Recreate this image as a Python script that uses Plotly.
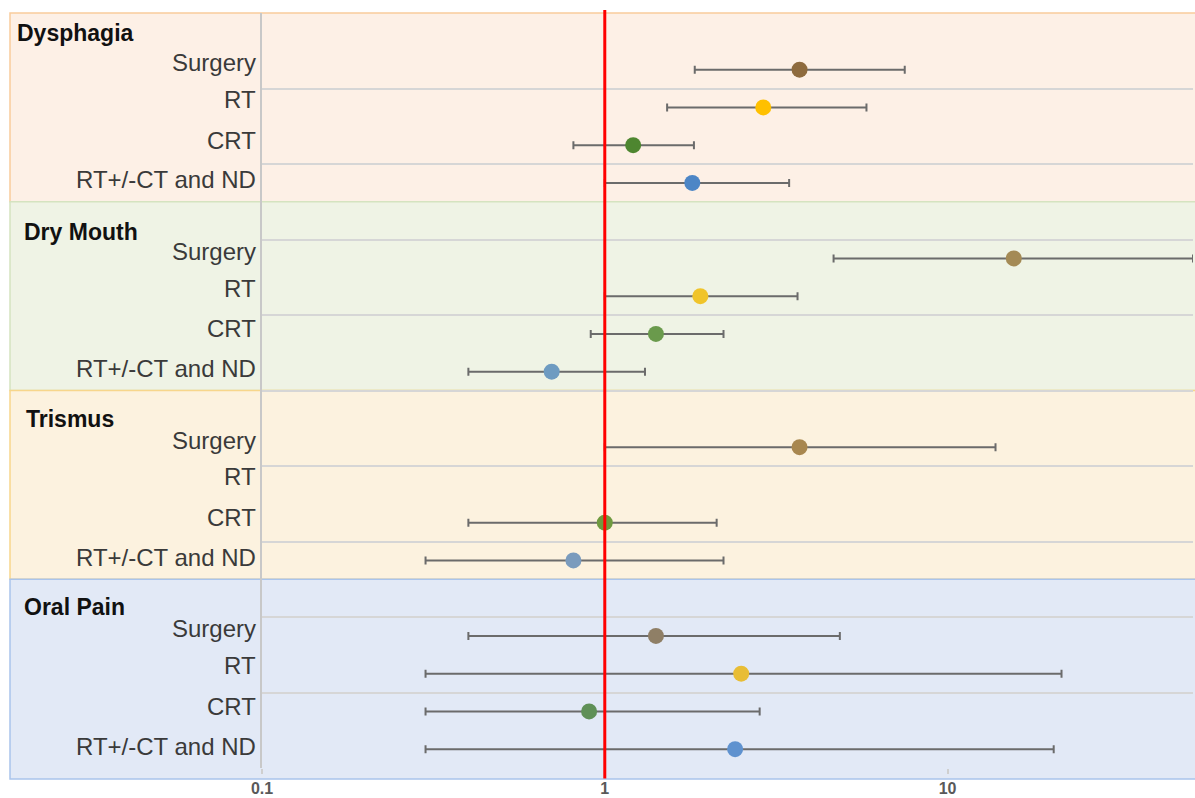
import plotly.graph_objects as go

# ---------------- data ----------------
groups = ["Dysphagia", "Dry Mouth", "Trismus", "Oral Pain"]
treatments = ["Surgery", "RT", "CRT", "RT+/-CT and ND"]

# odds ratio estimates (None = not reported)
or_dysphagia = [3.7, 2.9, 1.21, 1.8]
or_drymouth = [15.6, 1.9, 1.41, 0.70]
or_trismus = [3.7, None, 1.0, 0.81]
or_oralpain = [1.41, 2.5, 0.90, 2.4]

lo_dysphagia = [1.83, 1.52, 0.81, 1.0]
lo_drymouth = [4.65, 1.0, 0.91, 0.40]
lo_trismus = [1.0, None, 0.40, 0.30]
lo_oralpain = [0.40, 0.30, 0.30, 0.30]

hi_dysphagia = [7.5, 5.8, 1.82, 3.45]
hi_drymouth = [52.0, 3.65, 2.22, 1.31]
hi_trismus = [13.8, None, 2.12, 2.22]
hi_oralpain = [4.85, 21.5, 2.83, 20.4]

x_ticks = [0.1, 1, 10]
x_tick_labels = ["0.1", "1", "10"]

# ---------------- style ----------------
band_fill = ["#fdf0e6", "#eff3e5", "#fcf2df", "#e2e9f6"]
band_line = ["#f9cb9c", "#d5e3c0", "#f7d68c", "#a9c4ec"]
marker_colors = [
    ["#8e6b3e", "#ffc000", "#4e8630", "#4d86c6"],
    ["#a48a55", "#f0c42a", "#6a9a4c", "#6e9bc1"],
    ["#a8874f", "#f0c42a", "#6f9a3f", "#7a9bbd"],
    ["#8f7f66", "#e8bd35", "#5f9057", "#5f92cf"],
]
title_shift = [-20, -30, -28, -28]
title_x_px = [15, 22, 24, 22]
label_shift = [7, 8, 5, 3]

ors = [or_dysphagia, or_drymouth, or_trismus, or_oralpain]
los = [lo_dysphagia, lo_drymouth, lo_trismus, lo_oralpain]
his = [hi_dysphagia, hi_drymouth, hi_trismus, hi_oralpain]

FONT = "Liberation Sans, Arial, sans-serif"
L, R, T, B = 262, 2, 13, 30
W, H = 1195, 798
plot_w = W - L - R
plot_h = H - T - B


def px_to_paper_x(px):
    return (px - L) / plot_w


group_h = 2.5
n_groups = len(groups)
y_top = group_h * n_groups

fig = go.Figure()
shapes = []
annotations = []

for g, name in enumerate(groups):
    top = y_top - group_h * g
    bottom = top - group_h
    y0p = bottom / y_top
    if g == n_groups - 1:
        y0p = -11.0 / plot_h
    shapes.append(dict(type="rect", xref="paper", yref="paper",
                       x0=px_to_paper_x(10), x1=1.01, y0=y0p, y1=top / y_top,
                       fillcolor=band_fill[g],
                       line=dict(color=band_line[g], width=1.5),
                       layer="below"))
    annotations.append(dict(xref="paper", yref="y", x=px_to_paper_x(title_x_px[g]), y=top,
                            text="<b>%s</b>" % name, showarrow=False,
                            xanchor="left", yanchor="middle", yshift=title_shift[g],
                            font=dict(family=FONT, size=23, color="#111111")))
    xs, ys, em, ep, cols = [], [], [], [], []
    for r, tr in enumerate(treatments):
        y = top - 0.75 - 0.5 * r
        annotations.append(dict(xref="paper", yref="y", x=0, y=y, text=tr,
                                showarrow=False, xanchor="right", yanchor="middle",
                                xshift=-4, yshift=label_shift[r],
                                font=dict(family=FONT, size=24, color="#3a3a3a")))
        v = ors[g][r]
        if v is None:
            continue
        xs.append(v)
        ys.append(y)
        em.append(v - los[g][r])
        ep.append(his[g][r] - v)
        cols.append(marker_colors[g][r])
    fig.add_trace(go.Scatter(
        x=xs, y=ys, mode="markers",
        marker=dict(size=16, color=cols, line=dict(width=0)),
        error_x=dict(type="data", symmetric=False, array=ep, arrayminus=em,
                     color="#6b6b6b", thickness=2, width=4),
        showlegend=False, hoverinfo="x+y", cliponaxis=False,
    ))

# reference line at OR = 1
shapes.append(dict(type="line", xref="x", yref="paper", x0=1, x1=1,
                   y0=-0.014, y1=1.004, line=dict(color="#ff0000", width=3),
                   layer="above"))

fig.update_layout(
    width=W, height=H,
    margin=dict(l=L, r=R, t=T, b=B, autoexpand=False),
    paper_bgcolor="white",
    plot_bgcolor="rgba(0,0,0,0)",
    shapes=shapes,
    annotations=annotations,
    showlegend=False,
    xaxis=dict(type="log", range=[-1, 1.716], tickvals=x_ticks, ticktext=x_tick_labels,
               showgrid=False, zeroline=False, showline=False, automargin=False,
               ticks="outside", ticklen=5, tickcolor="#cfcfcf", tickwidth=1.5,
               ticklabelstandoff=1,
               tickfont=dict(family=FONT, size=16, color="#595959", weight="bold")),
    yaxis=dict(range=[0, y_top], dtick=1, tick0=0, showticklabels=False,
               showgrid=True, gridcolor="#d6d6d6", gridwidth=1.5, automargin=False,
               zeroline=False, showline=True, linecolor="#c8c8c8", linewidth=1.5,
               fixedrange=True),
)

fig.write_html("out.html")
